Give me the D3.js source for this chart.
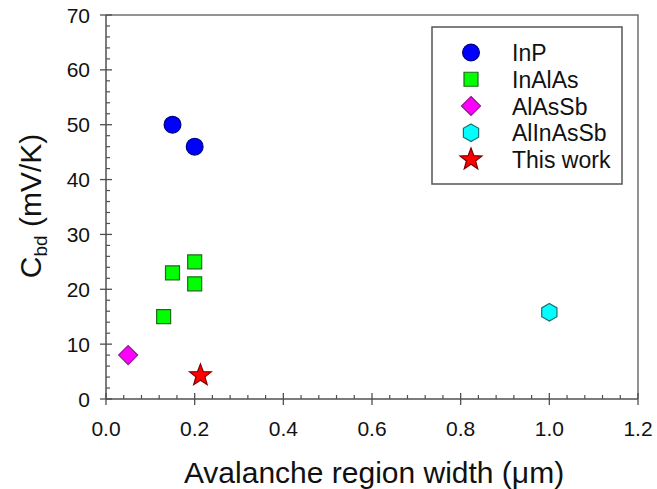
<!DOCTYPE html>
<html>
<head>
<meta charset="utf-8">
<script src="https://cdn.jsdelivr.net/npm/d3@7"></script>
<style>
  html, body { margin: 0; padding: 0; background: #fff; }
  svg { display: block; font-family: "Liberation Sans", Arial, sans-serif; }
</style>
</head>
<body>
<svg id="chart" width="657" height="489"></svg>
<script>
// Breakdown-voltage temperature coefficient vs. avalanche region width
const seriesNames = ["InP", "InAlAs", "AlAsSb", "AlInAsSb", "This work"];
const inpX = [0.15, 0.20];
const inpY = [50, 46];
const inalasX = [0.15, 0.20, 0.20, 0.13];
const inalasY = [23, 25, 21, 15];
const alassbX = [0.05];
const alassbY = [8];
const alinassbX = [1.0];
const alinassbY = [15.8];
const thisWorkX = [0.213];
const thisWorkY = [4.3];
const xTicks = [0, 0.2, 0.4, 0.6, 0.8, 1.0, 1.2];
const yTicks = [0, 10, 20, 30, 40, 50, 60, 70];

const svg = d3.select("#chart");
const plotLeft = 106, plotRight = 638, plotTop = 15, plotBottom = 399;
const x = d3.scaleLinear().domain([0, 1.2]).range([plotLeft, plotRight]);
const y = d3.scaleLinear().domain([0, 70]).range([plotBottom, plotTop]);
const axisColor = "#505050";

// marker shapes
function circlePath(r) { return d3.arc()({innerRadius: 0, outerRadius: r, startAngle: 0, endAngle: 2 * Math.PI}); }
function polyPath(n, r, rot, inner) {
  const pts = [];
  const count = inner ? n * 2 : n;
  for (let i = 0; i < count; i++) {
    const a = rot + i * 2 * Math.PI / count;
    const rr = inner && i % 2 ? inner : r;
    pts.push([rr * Math.sin(a), -rr * Math.cos(a)]);
  }
  return "M" + pts.map(p => p.join(",")).join("L") + "Z";
}
const styles = {
  "InP":       {d: circlePath(8.4), fill: "#0000ff", stroke: "#00007a"},
  "InAlAs":    {d: "M-7,-7H7V7H-7Z", fill: "#00ff00", stroke: "#1f6a1f"},
  "AlAsSb":    {d: polyPath(4, 9.5, 0), fill: "#ff00ff", stroke: "#8a1a8a"},
  "AlInAsSb":  {d: polyPath(6, 8.8, 0), fill: "#00ffff", stroke: "#1a7070"},
  "This work": {d: polyPath(5, 11.5, 0, 4.8), fill: "#ff0000", stroke: "#7a0000"}
};

// frame: top and right edges
svg.append("path")
  .attr("d", `M${plotLeft},${plotTop}H${plotRight}V${plotBottom}`)
  .attr("fill", "none").attr("stroke", "#707070").attr("stroke-width", 1.5);

// y axis
const yAxis = svg.append("g");
yAxis.append("line").attr("x1", plotLeft).attr("x2", plotLeft).attr("y1", plotTop).attr("y2", plotBottom)
  .attr("stroke", axisColor).attr("stroke-width", 1.5);
const yMinor = d3.range(0, 70.001, 2).filter(v => v % 10 !== 0);
yAxis.selectAll(".ymin").data(yMinor).join("line")
  .attr("x1", plotLeft).attr("x2", plotLeft + 4).attr("y1", d => y(d)).attr("y2", d => y(d))
  .attr("stroke", axisColor).attr("stroke-width", 1.2);
yAxis.selectAll(".ymaj").data(yTicks).join("line")
  .attr("x1", plotLeft - 6).attr("x2", plotLeft + 6).attr("y1", d => y(d)).attr("y2", d => y(d))
  .attr("stroke", axisColor).attr("stroke-width", 1.3);
yAxis.selectAll(".ylab").data(yTicks).join("text")
  .attr("x", 90).attr("y", d => y(d) + 7.5)
  .attr("text-anchor", "end").attr("font-size", 21).attr("fill", "#111")
  .text(d => d);

// x axis
const xAxis = svg.append("g");
xAxis.append("line").attr("x1", plotLeft).attr("x2", plotRight).attr("y1", plotBottom).attr("y2", plotBottom)
  .attr("stroke", axisColor).attr("stroke-width", 1.5);
const xMinor = d3.range(0, 1.2001, 0.04).filter(v => Math.abs(v * 5 - Math.round(v * 5)) > 1e-6);
xAxis.selectAll(".xmin").data(xMinor).join("line")
  .attr("x1", d => x(d)).attr("x2", d => x(d)).attr("y1", plotBottom).attr("y2", plotBottom - 4)
  .attr("stroke", axisColor).attr("stroke-width", 1.2);
xAxis.selectAll(".xmaj").data(xTicks).join("line")
  .attr("x1", d => x(d)).attr("x2", d => x(d)).attr("y1", plotBottom - 6).attr("y2", plotBottom + 6)
  .attr("stroke", axisColor).attr("stroke-width", 1.3);
xAxis.selectAll(".xlab").data(xTicks).join("text")
  .attr("x", d => x(d)).attr("y", 436)
  .attr("text-anchor", "middle").attr("font-size", 21).attr("fill", "#111")
  .text(d => d3.format(".1f")(d));

// axis titles
svg.append("text").attr("x", 374).attr("y", 483).attr("text-anchor", "middle")
  .attr("font-size", 30).attr("fill", "#111")
  .text("Avalanche region width (\u03bcm)");
const yt = svg.append("text")
  .attr("transform", "translate(41,206) rotate(-90)")
  .attr("text-anchor", "middle").attr("font-size", 30).attr("fill", "#111");
yt.append("tspan").text("C");
yt.append("tspan").attr("font-size", 19).attr("dy", 6).text("bd");
yt.append("tspan").attr("dy", -6).text(" (mV/K)");

// data points
const series = [
  {name: "InP", xs: inpX, ys: inpY},
  {name: "InAlAs", xs: inalasX, ys: inalasY},
  {name: "AlAsSb", xs: alassbX, ys: alassbY},
  {name: "AlInAsSb", xs: alinassbX, ys: alinassbY},
  {name: "This work", xs: thisWorkX, ys: thisWorkY}
];
series.forEach(s => {
  const st = styles[s.name];
  svg.append("g").selectAll("path").data(s.xs.map((v, i) => [v, s.ys[i]])).join("path")
    .attr("d", st.d)
    .attr("transform", d => `translate(${x(d[0])},${y(d[1])})`)
    .attr("fill", st.fill).attr("stroke", st.stroke).attr("stroke-width", 1.2);
});

// legend
const lg = svg.append("g");
lg.append("rect").attr("x", 432).attr("y", 27).attr("width", 190).attr("height", 157)
  .attr("fill", "#fff").attr("stroke", "#555").attr("stroke-width", 1.5);
const rowY = d3.scalePoint().domain(seriesNames).range([52.5, 159.5]);
seriesNames.forEach(n => {
  const st = styles[n];
  lg.append("path").attr("d", st.d).attr("transform", `translate(471,${rowY(n)})`)
    .attr("fill", st.fill).attr("stroke", st.stroke).attr("stroke-width", 1.2);
  lg.append("text").attr("x", 512).attr("y", rowY(n) + 8.5)
    .attr("font-size", 23).attr("fill", "#111").text(n);
});
</script>
</body>
</html>
